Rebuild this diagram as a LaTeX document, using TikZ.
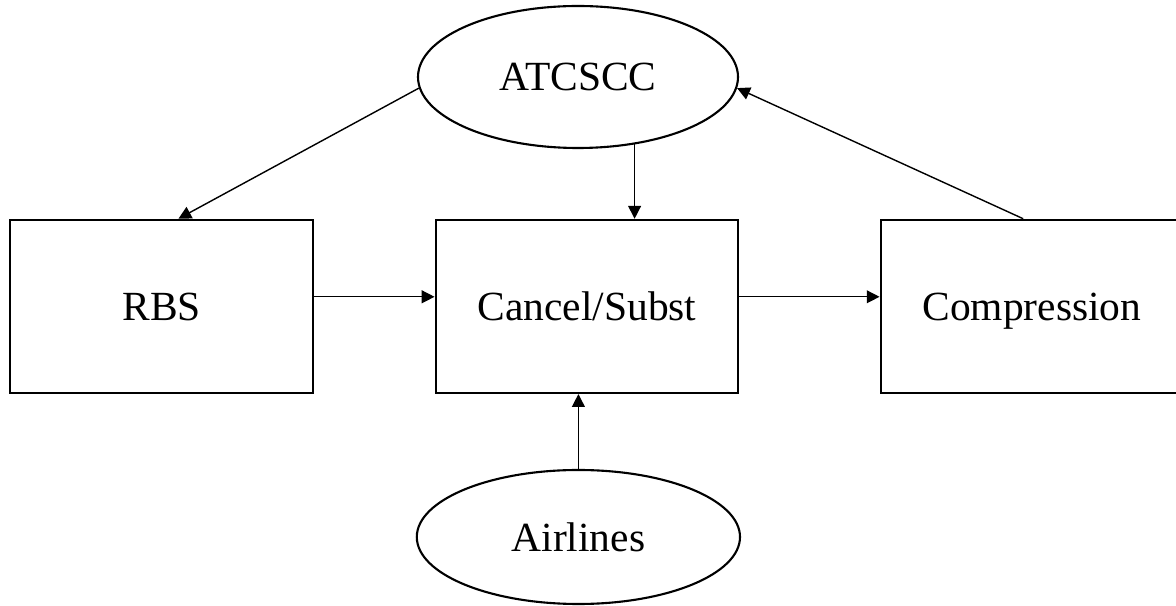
\documentclass[tikz,border=0pt]{standalone}
\usepackage{fontspec}
\setmainfont{Liberation Serif}
\usepackage{tikz}
\usetikzlibrary{arrows.meta, shapes.geometric}

\begin{document}
\begin{tikzpicture}[
  font=\fontsize{29.5}{35}\selectfont,
  box/.style={draw, line width=1.5pt, minimum width=7.57cm, minimum height=4.33cm, inner sep=0pt,
    text height=19.5pt, text depth=0pt},
  oval/.style={draw, ellipse, line width=1.5pt, inner sep=0pt},
  arr/.style={-{Triangle[length=3.2mm, width=3.2mm]}, line width=1pt}
]
\useasboundingbox (0,0) rectangle (29.4,15.15);

\node[oval, minimum width=8cm, minimum height=3.55cm] (atcscc) at (14.45,13.225) {ATCSCC};
\node[oval, minimum width=8.08cm, minimum height=3.35cm] (airlines) at (14.46,1.725) {Airlines};

\node[box] (rbs) at (4.04,7.49) {RBS};
\node[box] (cancel) at (14.675,7.49) {Cancel/Subst};
\node[box] (compr) at (25.8,7.49) {Compression};

% flows out of and back into ATCSCC
\draw[arr] (atcscc.184) -- ([xshift=0.42cm]rbs.north);
\draw[arr] (atcscc.310) -- (atcscc.310 |- cancel.north);
\draw[arr] ([xshift=-0.22cm]compr.north) -- (atcscc.356);

% main chain
\draw[arr] ([yshift=0.24cm]rbs.east) -- ([yshift=0.24cm]cancel.west);
\draw[arr] ([yshift=0.24cm]cancel.east) -- ([yshift=0.24cm]compr.west);
\draw[arr] (airlines.north) -- (airlines.north |- cancel.south);
\end{tikzpicture}
\end{document}
